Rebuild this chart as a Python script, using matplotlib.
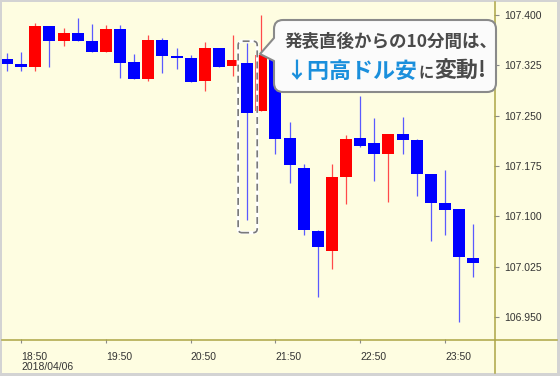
import matplotlib
matplotlib.use('Agg')
import matplotlib.pyplot as plt
from matplotlib.patches import Rectangle, PathPatch, FancyBboxPatch
from matplotlib.path import Path
from matplotlib.lines import Line2D
from matplotlib.transforms import IdentityTransform
import numpy as np

plt.rcParams['font.family'] = ['Liberation Sans', 'Noto Sans CJK JP', 'DejaVu Sans']
plt.rcParams['lines.scale_dashes'] = False

# ---------------- data (10-minute USD/JPY candles) ----------------
times = ['18:40', '18:50', '19:00', '19:10', '19:20', '19:30', '19:40', '19:50',
         '20:00', '20:10', '20:20', '20:30', '20:40', '20:50', '21:00', '21:10',
         '21:20', '21:30', '21:40', '21:50', '22:00', '22:10', '22:20', '22:30',
         '22:40', '22:50', '23:00', '23:10', '23:20', '23:30', '23:40', '23:50',
         '00:00', '00:10']
opens = [107.334, 107.327, 107.323, 107.384, 107.361, 107.373, 107.361, 107.345,
         107.379, 107.330, 107.305, 107.363, 107.339, 107.336, 107.302, 107.351,
         107.324, 107.328, 107.257, 107.337, 107.217, 107.172, 107.078, 107.048,
         107.159, 107.217, 107.209, 107.193, 107.223, 107.214, 107.163, 107.120,
         107.111, 107.038]
highs = [107.343, 107.345, 107.388, 107.384, 107.381, 107.396, 107.387, 107.385,
         107.385, 107.342, 107.370, 107.366, 107.351, 107.340, 107.360, 107.351,
         107.370, 107.358, 107.400, 107.340, 107.241, 107.178, 107.080, 107.178,
         107.221, 107.279, 107.247, 107.223, 107.248, 107.215, 107.163, 107.169,
         107.111, 107.089]
lows = [107.317, 107.317, 107.317, 107.323, 107.354, 107.361, 107.345, 107.345,
        107.306, 107.305, 107.302, 107.314, 107.320, 107.300, 107.287, 107.323,
        107.309, 107.095, 107.257, 107.193, 107.150, 107.072, 106.980, 107.022,
        107.118, 107.203, 107.153, 107.121, 107.193, 107.130, 107.063, 107.072,
        106.943, 107.010]
closes = [107.327, 107.323, 107.384, 107.361, 107.373, 107.361, 107.345, 107.379,
          107.328, 107.305, 107.363, 107.339, 107.336, 107.300, 107.351, 107.323,
          107.333, 107.254, 107.340, 107.215, 107.177, 107.080, 107.054, 107.159,
          107.215, 107.205, 107.193, 107.223, 107.214, 107.163, 107.120, 107.109,
          107.039, 107.030]

x_tick_times = ['18:50', '19:50', '20:50', '21:50', '22:50', '23:50']
x_tick_labels = ['18:50\n2018/04/06', '19:50', '20:50', '21:50', '22:50', '23:50']
y_ticks = [106.950, 107.025, 107.100, 107.175, 107.250, 107.325, 107.400]
y_tick_labels = ['106.950', '107.025', '107.100', '107.175', '107.250', '107.325', '107.400']
highlight_time = '21:30'
callout_line1 = '発表直後からの10分間は、'
callout_blue = '↓円高ドル安'
callout_mid = 'に'
callout_end = '変動!'

# ---------------- styling ----------------
W, H = 560, 376
BG = '#fefde1'
AXC = '#aca545'
UP, DOWN = '#ff0000', '#0000ff'
UPW, DOWNW = '#ff4a4a', '#5a5aff'
TXT = '#333333'
CJK = ['Noto Sans CJK JP', 'DejaVu Sans']

fig = plt.figure(figsize=(W / 100, H / 100), dpi=100)
fig.patch.set_facecolor('#d3d3d3')
fig.add_artist(Rectangle((2 / W, 3 / H), 555 / W, 371 / H, transform=fig.transFigure,
                         facecolor=BG, edgecolor='none', zorder=0))

ax = fig.add_axes([2 / W, (H - 339) / H, 492 / W, 337 / H])
ax.set_facecolor(BG)
n = len(times)
x = np.arange(n)
o = np.array(opens); c = np.array(closes)
hi = np.array(highs); lo = np.array(lows)
up = c >= o

ax.set_xlim(-0.354, 34.47)
ax.set_ylim(106.9172, 107.4194)

ax.vlines(x, lo, hi, colors=[UPW if u else DOWNW for u in up], linewidth=0.9, zorder=2)
ax.bar(x, np.maximum(np.abs(c - o), 0.0015), bottom=np.minimum(o, c), width=0.85,
       color=[UP if u else DOWN for u in up], linewidth=0, zorder=3)

for s in ax.spines.values():
    s.set_visible(False)

ax.set_xticks([times.index(t) for t in x_tick_times])
ax.set_xticklabels(x_tick_labels, ha='left', linespacing=1.0)
ax.yaxis.tick_right()
ax.set_yticks(y_ticks)
ax.set_yticklabels(y_tick_labels)
ax.tick_params(axis='x', direction='out', length=3, width=0.8, color='#8a8a8a',
               pad=6, labelsize=7.5, labelcolor=TXT)
ax.tick_params(axis='y', direction='out', length=3.5, width=0.8, color='#8a8a8a',
               pad=4, labelsize=7.5, labelcolor=TXT)

# axis lines extending to the frame
fig.add_artist(Line2D([494.5 / W, 494.5 / W], [(H - 373) / H, (H - 2) / H],
                      transform=fig.transFigure, color=AXC, linewidth=1.1, zorder=5))
fig.add_artist(Line2D([2 / W, 557 / W], [(H - 339.5) / H, (H - 339.5) / H],
                      transform=fig.transFigure, color=AXC, linewidth=1.1, zorder=5))

# ---------------- dashed highlight box ----------------
fig.canvas.draw()
hidx = times.index(highlight_time)
(xa, ya) = ax.transData.transform((hidx - 0.64, hi[hidx]))
(xb, yb) = ax.transData.transform((hidx + 0.71, lo[hidx]))
bx0, bx1 = xa, xb
by_top, by_bot = ya + 2, yb - 13
for lw, col, ls in [(3.2, 'white', '-'), (1.7, '#7a7a7a', (0, (5, 3)))]:
    p = FancyBboxPatch((bx0, by_bot), bx1 - bx0, by_top - by_bot,
                       boxstyle='round,pad=0,rounding_size=4', transform=IdentityTransform(),
                       facecolor='none', edgecolor=col, linewidth=lw * 0.72, linestyle=ls,
                       zorder=6)
    fig.add_artist(p)

# ---------------- callout ----------------
def P(px, py):
    return (px, H - py)

x0, y0, x1, y1, r = 274, 20, 496, 92, 9
verts = [P(x0 + r, y0), P(x1 - r, y0), P(x1, y0), P(x1, y0 + r), P(x1, y1 - r), P(x1, y1),
         P(x1 - r, y1), P(x0 + r, y1), P(x0, y1), P(x0, y1 - r), P(x0, 61), P(260, 54),
         P(x0, 38), P(x0, y0 + r), P(x0, y0), P(x0 + r, y0), P(x0 + r, y0)]
codes = [Path.MOVETO, Path.LINETO, Path.CURVE3, Path.CURVE3, Path.LINETO, Path.CURVE3,
         Path.CURVE3, Path.LINETO, Path.CURVE3, Path.CURVE3, Path.LINETO, Path.LINETO,
         Path.LINETO, Path.LINETO, Path.CURVE3, Path.CURVE3, Path.CLOSEPOLY]
fig.add_artist(PathPatch(Path(verts, codes), transform=IdentityTransform(),
                         facecolor='#fbfbfb', edgecolor='#8a8a8a', linewidth=1.5,
                         joinstyle='round', zorder=10))

fig.text(285, H - 47, callout_line1, transform=IdentityTransform(), family=CJK,
         fontsize=12.6, fontweight='bold', color='#4a4a4a', va='baseline', ha='left', zorder=11)

renderer = fig.canvas.get_renderer()
base = H - 78
cx = 285
for s, fs, col in [(callout_blue, 15.8, '#1a8fdc'), (callout_mid, 11, '#4a4a4a'),
                   (callout_end, 15.8, '#4a4a4a')]:
    t = fig.text(cx, base, s, transform=IdentityTransform(), family=CJK, fontsize=fs,
                 fontweight='bold', color=col, va='baseline', ha='left', zorder=11)
    bb = t.get_window_extent(renderer)
    cx = bb.x1 + 1

fig.savefig('out.png', dpi=100, facecolor=fig.get_facecolor())
